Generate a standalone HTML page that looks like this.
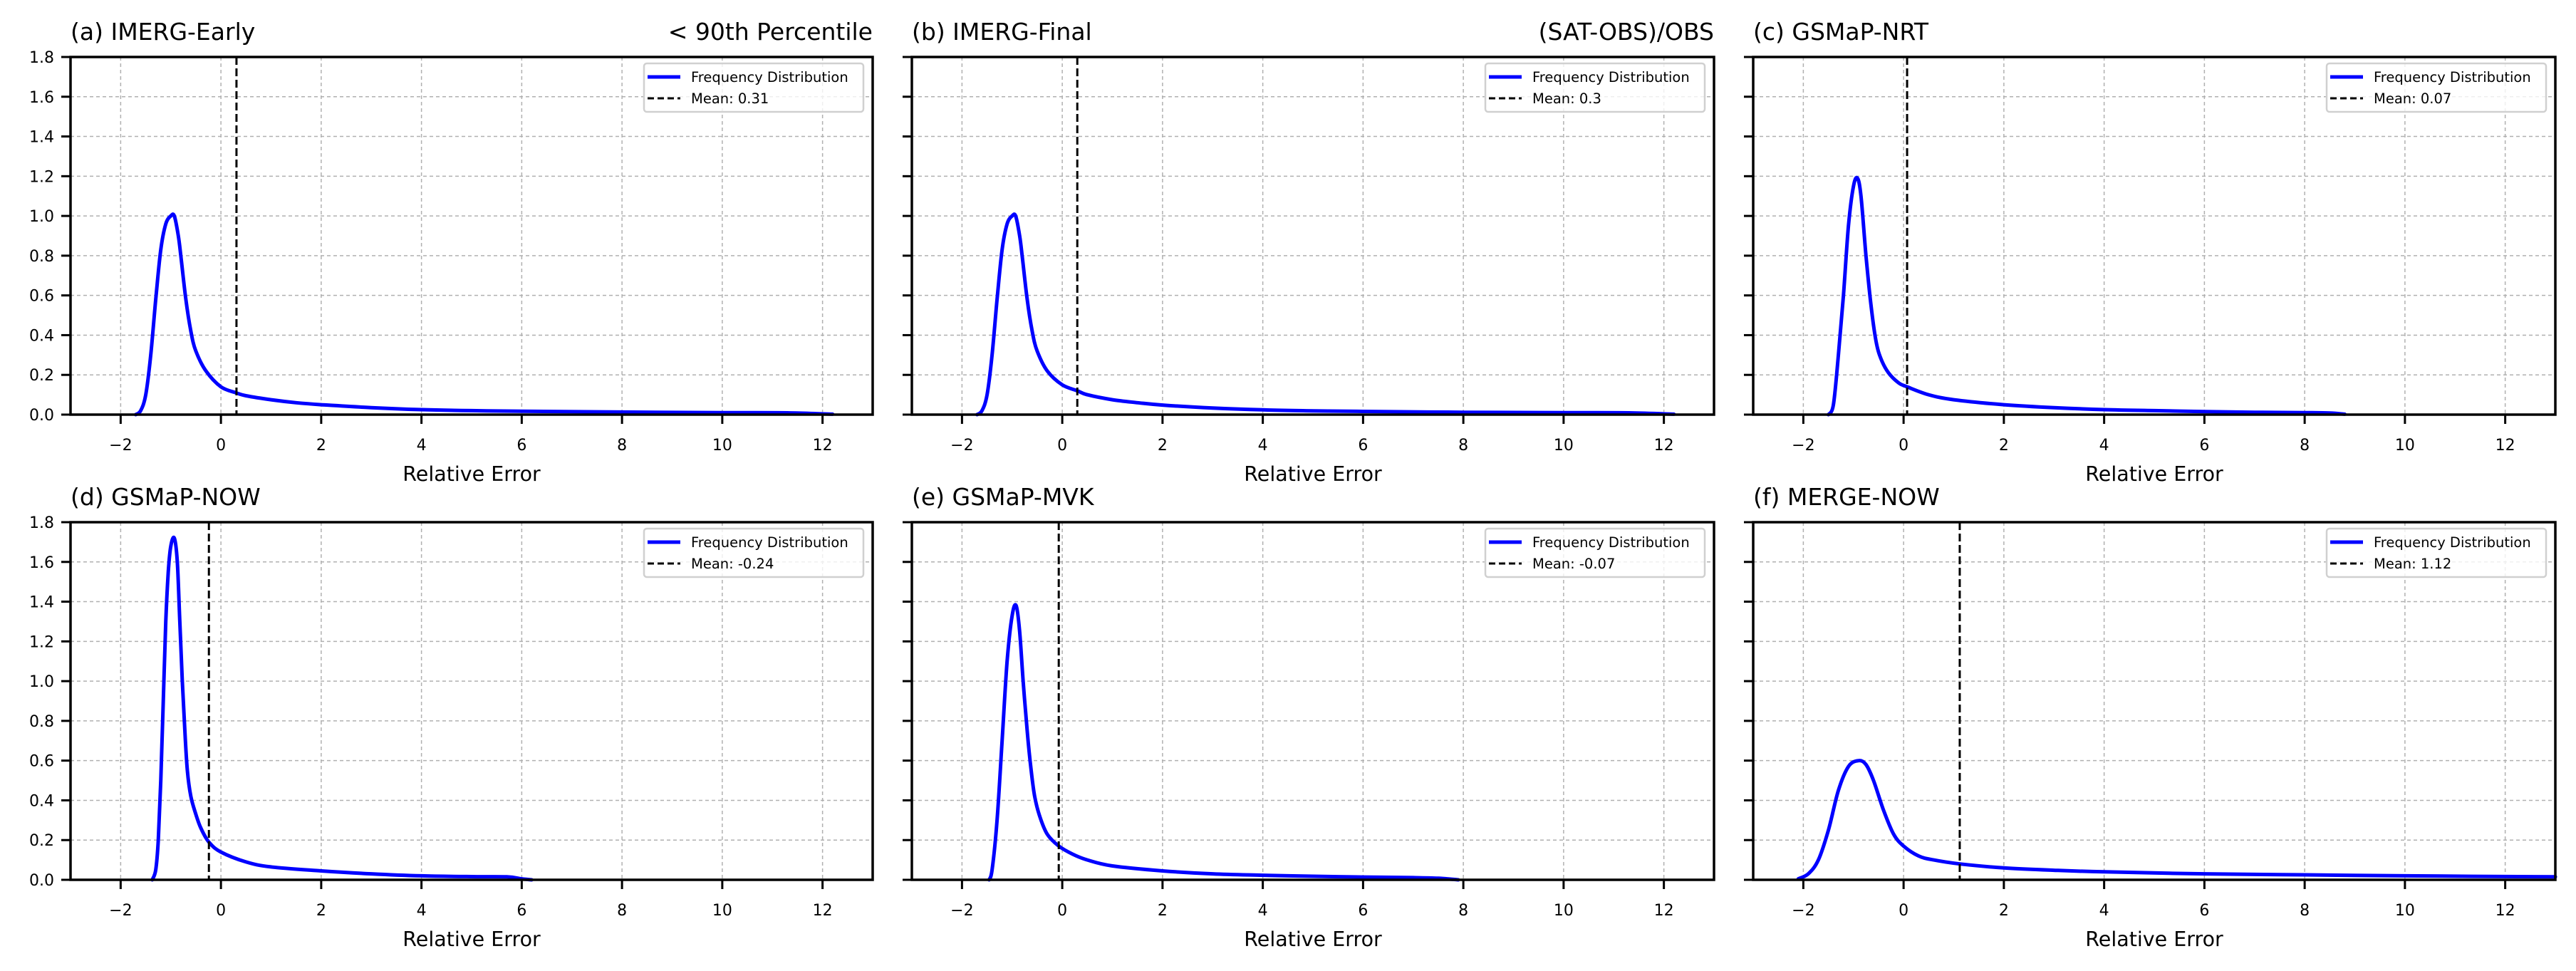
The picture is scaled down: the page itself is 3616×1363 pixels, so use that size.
<!DOCTYPE html>
<html><head><meta charset="utf-8">
<style>
html,body{margin:0;padding:0;background:#fff;}
svg{display:block;font-family:"DejaVu Sans","Liberation Sans",sans-serif;}
</style></head>
<body>
<svg id="fig" width="3616" height="1363" viewBox="0 0 3616 1363" xmlns="http://www.w3.org/2000/svg"></svg>
<script>
// ---- data ----
const panelTitles = ["(a) IMERG-Early","(b) IMERG-Final","(c) GSMaP-NRT","(d) GSMaP-NOW","(e) GSMaP-MVK","(f) MERGE-NOW"];
const rightTitles = ["< 90th Percentile","(SAT-OBS)/OBS","","","",""];
const meanValues = [0.31, 0.3, 0.07, -0.24, -0.07, 1.12];
const meanLabels = ["Mean: 0.31","Mean: 0.3","Mean: 0.07","Mean: -0.24","Mean: -0.07","Mean: 1.12"];
const xTicks = [-2,0,2,4,6,8,10,12];
const xTickLabels = ["\u22122","0","2","4","6","8","10","12"];
const yTicks = [0,0.2,0.4,0.6,0.8,1.0,1.2,1.4,1.6,1.8];
const yTickLabels = ["0.0","0.2","0.4","0.6","0.8","1.0","1.2","1.4","1.6","1.8"];
const xDomain = [-3,13];
const yDomain = [0,1.8];

const xA = [-1.7,-1.6,-1.5,-1.4,-1.3,-1.2,-1.1,-1.0,-0.93,-0.85,-0.8,-0.7,-0.6,-0.5,-0.3,0,0.3,0.5,1,1.5,2,3,4,5,6,8,10,11.3,12.2];
const yA = [0,0.02,0.1,0.3,0.58,0.83,0.96,1.0,1.0,0.9,0.8,0.58,0.42,0.32,0.22,0.14,0.11,0.095,0.075,0.06,0.05,0.035,0.025,0.02,0.017,0.013,0.01,0.009,0.002];
const xB = [-1.7,-1.6,-1.5,-1.4,-1.3,-1.2,-1.1,-1.0,-0.93,-0.85,-0.8,-0.7,-0.6,-0.5,-0.3,0,0.3,0.5,1,1.5,2,3,4,5,6,8,10,11.3,12.2];
const yB = [0,0.02,0.1,0.3,0.58,0.83,0.96,1.0,1.0,0.9,0.8,0.58,0.42,0.32,0.22,0.15,0.12,0.1,0.075,0.06,0.048,0.033,0.024,0.019,0.016,0.012,0.01,0.009,0.002];
const xC = [-1.5,-1.4,-1.3,-1.2,-1.1,-1.0,-0.92,-0.85,-0.75,-0.65,-0.55,-0.45,-0.3,-0.1,0.07,0.5,1,2,3,4,5,6,7,8,8.5,8.8];
const yC = [0,0.05,0.3,0.6,0.95,1.15,1.19,1.1,0.8,0.55,0.37,0.28,0.21,0.16,0.14,0.1,0.075,0.05,0.035,0.025,0.02,0.015,0.012,0.01,0.008,0.002];
const xD = [-1.37,-1.3,-1.25,-1.2,-1.15,-1.1,-1.05,-1.0,-0.93,-0.87,-0.82,-0.77,-0.72,-0.67,-0.6,-0.5,-0.4,-0.24,0,0.5,1,2,3,4,5,5.7,6.0,6.2];
const yD = [0,0.05,0.2,0.5,0.9,1.3,1.55,1.68,1.72,1.6,1.3,1.0,0.75,0.55,0.42,0.33,0.26,0.19,0.14,0.09,0.065,0.045,0.03,0.02,0.016,0.015,0.005,0];
const xE = [-1.46,-1.4,-1.3,-1.2,-1.1,-1.0,-0.92,-0.85,-0.78,-0.7,-0.62,-0.55,-0.45,-0.3,-0.07,0.2,0.5,1,2,3,4,5,6,7,7.5,7.9];
const yE = [0,0.05,0.3,0.7,1.1,1.33,1.38,1.25,1.0,0.75,0.55,0.42,0.32,0.23,0.17,0.13,0.1,0.07,0.045,0.03,0.023,0.018,0.014,0.011,0.008,0];
const xF = [-2.1,-1.9,-1.7,-1.5,-1.3,-1.1,-0.9,-0.75,-0.6,-0.4,-0.2,0,0.3,0.6,1.12,2,3,4,6,8,10,13];
const yF = [0.005,0.03,0.1,0.25,0.45,0.57,0.6,0.58,0.5,0.35,0.23,0.17,0.12,0.1,0.08,0.06,0.048,0.04,0.03,0.025,0.02,0.015];
const seriesX = [xA,xB,xC,xD,xE,xF];
const seriesY = [yA,yB,yC,yD,yE,yF];

// ---- layout ----
const NS = "http://www.w3.org/2000/svg";
const svg = document.getElementById("fig");
const colLeft = [99, 1280, 2461];
const rowTop = [80, 733];
const W = 1126, H = 502;

function mk(tag, attrs, parent, text) {
  const e = document.createElementNS(NS, tag);
  for (const k in attrs) e.setAttribute(k, attrs[k]);
  if (text !== undefined) e.textContent = text;
  parent.appendChild(e);
  return e;
}

function smoothPath(pts) {
  let d = "M" + pts[0][0].toFixed(1) + "," + pts[0][1].toFixed(1);
  for (let i = 0; i < pts.length - 1; i++) {
    const p0 = pts[Math.max(0, i - 1)], p1 = pts[i], p2 = pts[i + 1], p3 = pts[Math.min(pts.length - 1, i + 2)];
    const c1x = p1[0] + (p2[0] - p0[0]) / 6, c1y = p1[1] + (p2[1] - p0[1]) / 6;
    const c2x = p2[0] - (p3[0] - p1[0]) / 6, c2y = p2[1] - (p3[1] - p1[1]) / 6;
    d += "C" + c1x.toFixed(1) + "," + c1y.toFixed(1) + " " + c2x.toFixed(1) + "," + c2y.toFixed(1) + " " + p2[0].toFixed(1) + "," + p2[1].toFixed(1);
  }
  return d;
}

for (let p = 0; p < 6; p++) {
  const L = colLeft[p % 3], T = rowTop[Math.floor(p / 3)];
  const sx = v => L + (v - xDomain[0]) / (xDomain[1] - xDomain[0]) * W;
  const sy = v => T + H - (v - yDomain[0]) / (yDomain[1] - yDomain[0]) * H;
  const g = mk("g", {}, svg);
  
  

  xTicks.forEach(t => {
    const l = mk("line", {x1: sx(t), x2: sx(t), y1: T, y2: T + H, stroke: "#b0b0b0", "stroke-width": 1.5, "stroke-dasharray": "5,4"}, g);
    
    
  });
  yTicks.forEach(t => {
    const l = mk("line", {x1: L, x2: L + W, y1: sy(t), y2: sy(t), stroke: "#b0b0b0", "stroke-width": 1.5, "stroke-dasharray": "5,4"}, g);
    
    
  });

  const xs = seriesX[p], ys = seriesY[p];
  const pts = xs.map((x, i) => [sx(x), sy(ys[i])]);
  const path = mk("path", {d: smoothPath(pts), fill: "none", stroke: "#0000ff", "stroke-width": 5, "stroke-linejoin": "round", "stroke-linecap": "round"}, g);
  
  

  const ml = mk("line", {x1: sx(meanValues[p]), x2: sx(meanValues[p]), y1: T, y2: T + H, stroke: "#000", "stroke-width": 3, "stroke-dasharray": "11,5"}, g);
  
  

  const fr = mk("rect", {x: L, y: T, width: W, height: H, fill: "none", stroke: "#000", "stroke-width": 3.5}, g);
  
  

  xTicks.forEach((t, i) => {
    const tk = mk("line", {x1: sx(t), x2: sx(t), y1: T + H, y2: T + H + 13, stroke: "#000", "stroke-width": 3}, g);
    
    
    const tl = mk("text", {x: sx(t), y: T + H + 50, "font-size": 22, "text-anchor": "middle", fill: "#000"}, g, xTickLabels[i]);
    
    
  });
  yTicks.forEach((t, i) => {
    const tk = mk("line", {x1: L - 13, x2: L, y1: sy(t), y2: sy(t), stroke: "#000", "stroke-width": 3}, g);
    
    
    if (p % 3 === 0) {
      const tl = mk("text", {x: L - 23, y: sy(t) + 8, "font-size": 22, "text-anchor": "end", fill: "#000"}, g, yTickLabels[i]);
      
      
    }
  });

  const xl = mk("text", {x: L + W / 2, y: T + H + 93, "font-size": 28.5, "text-anchor": "middle", fill: "#000"}, g, "Relative Error");
  
  

  const tt = mk("text", {x: L, y: T - 24, "font-size": 33, fill: "#000"}, g, panelTitles[p]);
  
  
  if (rightTitles[p]) {
    const rt = mk("text", {x: L + W, y: T - 24, "font-size": 33, "text-anchor": "end", fill: "#000"}, g, rightTitles[p]);
    
    
  }

  const lg = mk("g", {}, g);
  
  
  mk("rect", {x: L + W - 321, y: T + 9, width: 308, height: 68, rx: 4, fill: "#fff", "fill-opacity": 0.8, stroke: "#d0d0d0", "stroke-width": 2.5}, lg);
  mk("line", {x1: L + W - 316, x2: L + W - 270, y1: T + 28, y2: T + 28, stroke: "#0000ff", "stroke-width": 5}, lg);
  const le1 = mk("text", {x: L + W - 255, y: T + 35, "font-size": 19.5, fill: "#000"}, lg, "Frequency Distribution");
  
  
  mk("line", {x1: L + W - 316, x2: L + W - 270, y1: T + 58, y2: T + 58, stroke: "#000", "stroke-width": 3, "stroke-dasharray": "9,5"}, lg);
  const le2 = mk("text", {x: L + W - 255, y: T + 65, "font-size": 19.5, fill: "#000"}, lg, meanLabels[p]);
  
  
}
</script>
</body></html>
